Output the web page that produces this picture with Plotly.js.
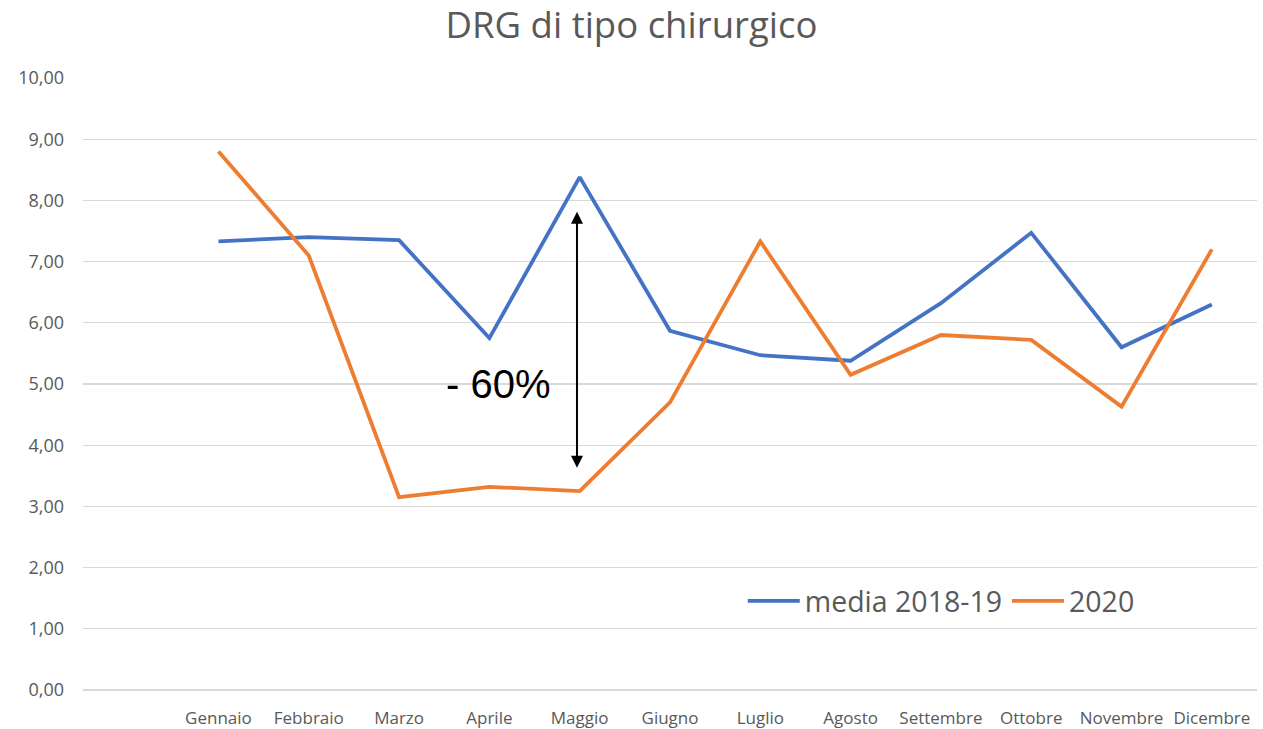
<!DOCTYPE html>
<html>
<head>
<meta charset="utf-8">
<script src="https://cdn.plot.ly/plotly-3.0.1.min.js"></script>
<style>html,body{margin:0;padding:0;background:#fff;}#chart{width:1263px;height:729px;}</style>
</head>
<body>
<div id="chart"></div>
<script>
const months = ["Gennaio","Febbraio","Marzo","Aprile","Maggio","Giugno","Luglio","Agosto","Settembre","Ottobre","Novembre","Dicembre"];
const media201819 = [7.33,7.40,7.35,5.75,8.38,5.87,5.47,5.38,6.32,7.47,5.60,6.30];
const anno2020 = [8.80,7.10,3.15,3.32,3.25,4.70,7.33,5.15,5.80,5.72,4.63,7.20];
const seriesNames = ["media 2018-19","2020"];
const arrowTop = 7.84, arrowBottom = 3.63;
const annotationText = "- 60%";

const traces = [
  {x: months, y: media201819, name: seriesNames[0], type: "scatter", mode: "lines",
   line: {color: "#4472C4", width: 3.8}},
  {x: months, y: anno2020, name: seriesNames[1], type: "scatter", mode: "lines",
   line: {color: "#ED7D31", width: 3.8}}
];

const layout = {
  width: 1263, height: 729,
  margin: {l: 83, r: 6, t: 78, b: 39},
  paper_bgcolor: "#fff", plot_bgcolor: "#fff",
  separators: ",.",
  font: {family: "Open Sans, Noto Sans, sans-serif", color: "#595959"},
  title: {text: "DRG di tipo chirurgico", font: {size: 36.5, color: "#595959"}, x: 0.5, xanchor: "center", y: 0.965, yanchor: "middle"},
  xaxis: {type: "category", range: [-1.5, 11.5], showgrid: false, zeroline: false, showline: false,
          ticks: "", tickfont: {size: 17, color: "#595959"}, ticklabelstandoff: 16, fixedrange: true},
  yaxis: {range: [0, 10], dtick: 1, tickformat: ".2f", showgrid: true, gridcolor: "#d9d9d9", gridwidth: 1.3,
          zeroline: true, zerolinecolor: "#d9d9d9", zerolinewidth: 1.3, showline: false, ticks: "",
          tickfont: {size: 18, color: "#595959"}, ticklabelstandoff: 18, fixedrange: true},
  showlegend: true,
  legend: {orientation: "h", x: 0.562, y: 0.145, xanchor: "left", yanchor: "middle",
           font: {size: 28.5, color: "#595959"}, bgcolor: "rgba(0,0,0,0)", itemwidth: 52, tracegroupgap: 0},
  annotations: [
    {x: 3.97, y: arrowBottom, ax: 3.97, ay: arrowTop, xref: "x", yref: "y", axref: "x", ayref: "y",
     text: "", showarrow: true, arrowhead: 2, startarrowhead: 2, arrowside: "end+start",
     arrowsize: 1.2, arrowwidth: 2, arrowcolor: "#000"},
    {x: 3.1, y: 5.0, xref: "x", yref: "y", text: annotationText, showarrow: false,
     font: {family: "Liberation Sans, Arial, sans-serif", size: 40, color: "#000"}, xanchor: "center", yanchor: "middle"}
  ]
};

Plotly.newPlot("chart", traces, layout, {displayModeBar: false, staticPlot: true});
</script>
</body>
</html>
